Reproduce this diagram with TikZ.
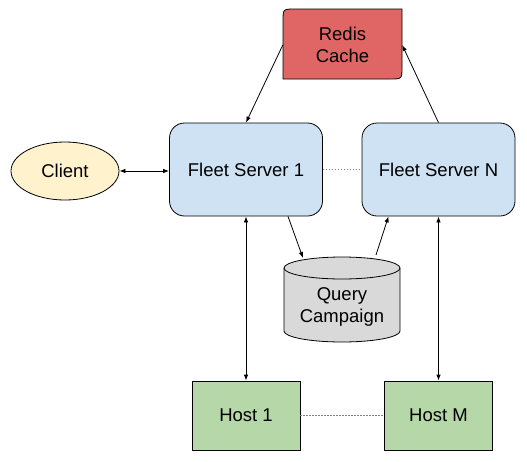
\documentclass[tikz,border=0pt]{standalone}
\usepackage{fontspec}
\setmainfont{Liberation Sans}
\usetikzlibrary{arrows.meta,shapes.geometric,calc}
\definecolor{redisred}{HTML}{E06666}
\definecolor{fsblue}{HTML}{CFE2F3}
\definecolor{hostgreen}{HTML}{B6D7A8}
\definecolor{clientyellow}{HTML}{FFF2CC}
\definecolor{cylgray}{HTML}{D9D9D9}
\begin{document}
\begin{tikzpicture}[x=1pt,y=-1pt,
  lbl/.style={font=\fontsize{18.5}{22.5}\selectfont, align=center, text=black, inner sep=0pt},
  server/.style={lbl, draw=black, line width=0.8pt, fill=fsblue, rounded corners=15pt, minimum width=153pt, minimum height=93pt},
  hostbox/.style={lbl, draw=black, line width=0.8pt, fill=hostgreen, minimum width=108pt, minimum height=69pt},
  clientbox/.style={lbl, ellipse, draw=black, line width=0.8pt, fill=clientyellow, minimum width=108pt, minimum height=58pt},
  shapeline/.style={draw=black, line width=0.8pt},
  tip/.tip={Latex[length=6pt,width=4.5pt]},
  conn/.style={line width=0.8pt, -tip},
  both/.style={line width=0.8pt, tip-tip},
  dots/.style={draw=gray, line width=0.8pt, dash pattern=on 1.5pt off 1.5pt}]
\useasboundingbox (0,0) rectangle (527,461);

% Redis cache shape
\path[shapeline, fill=redisred] (283,79) -- (283,21) .. controls (283,9) .. (295,9) -- (402,9) -- (402,67) .. controls (402,79) .. (390,79) -- cycle;
\node[lbl, minimum width=119pt, minimum height=70pt] (redis) at (342.5,45) {Redis\\Cache};

% Query campaign cylinder
\path[shapeline, fill=cylgray] (284,268) -- (284,331) arc[start angle=180, end angle=360, x radius=58pt, y radius=11pt] -- (400,268) arc[start angle=0, end angle=180, x radius=58pt, y radius=11pt] -- cycle;
\draw[line width=0.8pt] (284,268) arc[start angle=180, end angle=360, x radius=58pt, y radius=11pt];
\node[lbl, minimum width=116pt, minimum height=85pt] (qc) at (342,307) {Query\\Campaign};

\node[server] (fs1) at (246,169.5) {Fleet Server 1};
\node[server] (fsN) at (438.5,169.5) {Fleet Server N};
\node[hostbox] (host1) at (246,415.5) {Host 1};
\node[hostbox] (hostM) at (438.5,415.5) {Host M};
\node[clientbox] (client) at (65,171) {Client};

\coordinate (fs1out) at ($(fs1.south)+(42,0)$);
\coordinate (qcin) at (303,258);
\coordinate (qcout) at (376,255);
\coordinate (fsNin) at ($(fsN.south)+(-50,0)$);

\draw[conn] (redis.west) -- (fs1.north);
\draw[conn] (fsN.north) -- (redis.east);
\draw[conn] (fs1out) -- (qcin);
\draw[conn] (qcout) -- (fsNin);
\draw[both] (client.east) -- (fs1.west |- client.east);
\draw[both] (fs1.south) -- (host1.north);
\draw[both] (fsN.south) -- (hostM.north);
\draw[dots] (fs1.east) -- (fsN.west);
\draw[dots] (host1.east) -- (hostM.west);
\end{tikzpicture}
\end{document}
